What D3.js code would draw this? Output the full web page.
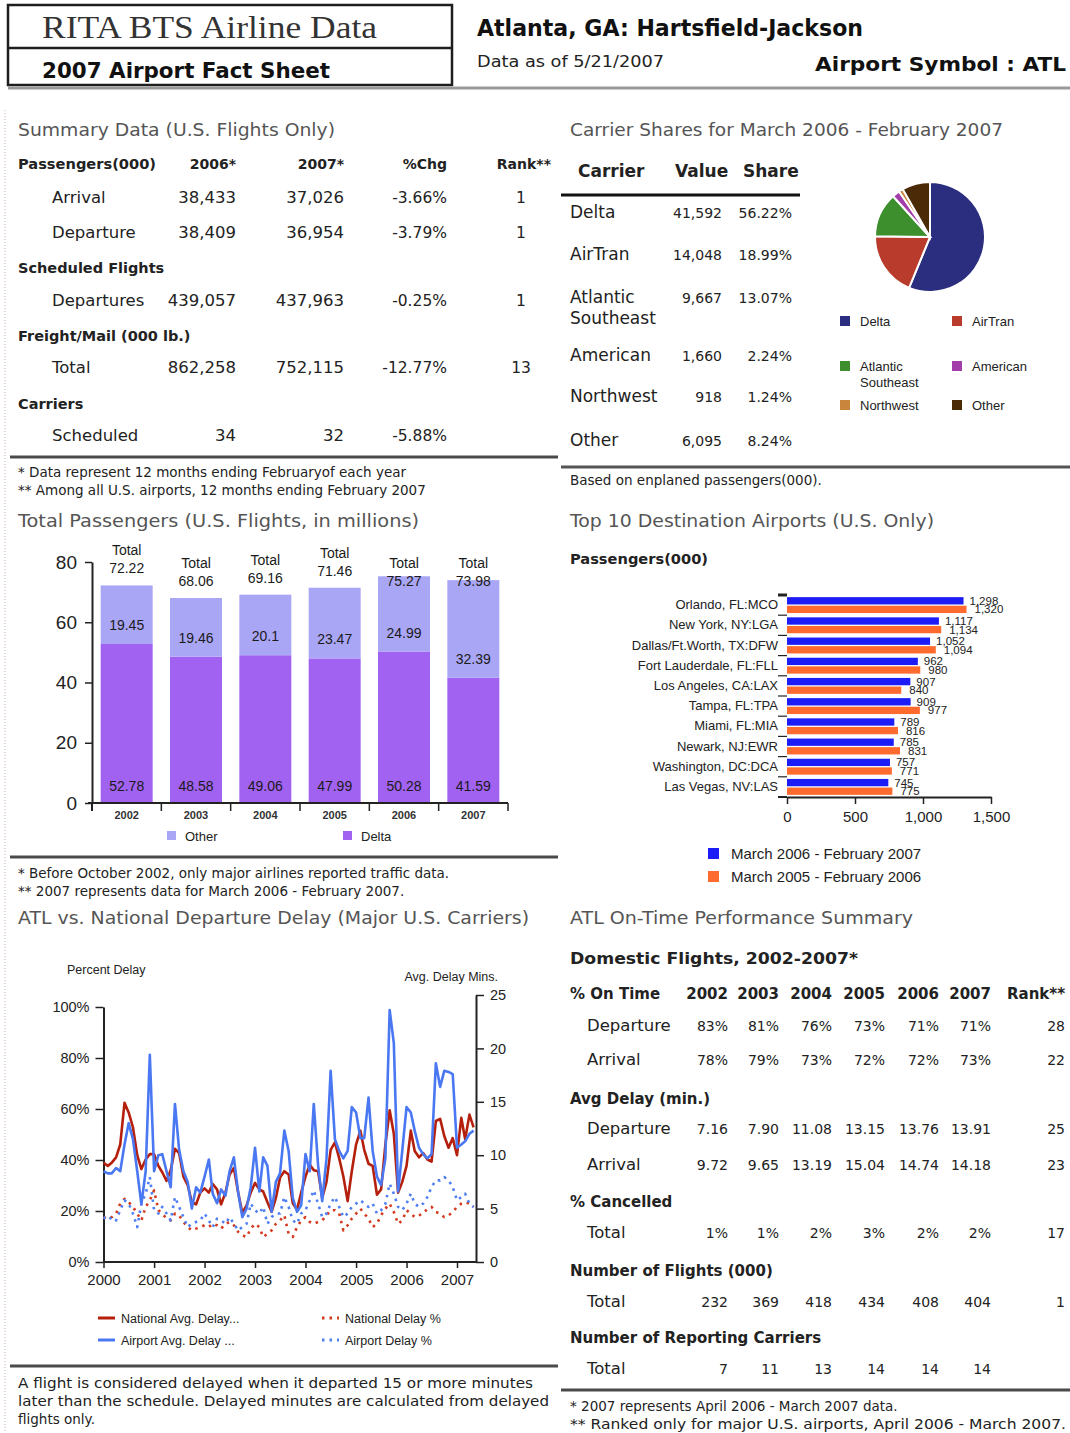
<!DOCTYPE html>
<html>
<head>
<meta charset="utf-8">
<script src="https://cdn.jsdelivr.net/npm/d3@7"></script>
<style>
  body { margin: 0; background: #fff; }
  svg { display: block; }
</style>
</head>
<body>
<script>
// ---- data ----
const sumLabels = ['Arrival', 'Departure', 'Departures', 'Total', 'Scheduled'];
const sum2006 = ['38,433', '38,409', '439,057', '862,258', '34'];
const sum2007 = ['37,026', '36,954', '437,963', '752,115', '32'];
const sumChg = ['-3.66%', '-3.79%', '-0.25%', '-12.77%', '-5.88%'];
const sumRank = ['1', '1', '1', '13', ''];
const sumGroups = ['Scheduled Flights', 'Freight/Mail (000 lb.)', 'Carriers'];

const carriers = ['Delta', 'AirTran', 'Atlantic Southeast', 'American', 'Northwest', 'Other'];
const carrierValues = [41592, 14048, 9667, 1660, 918, 6095];
const carrierShares = [56.22, 18.99, 13.07, 2.24, 1.24, 8.24];

const paxYears = ['2002', '2003', '2004', '2005', '2006', '2007'];
const paxDelta = [52.78, 48.58, 49.06, 47.99, 50.28, 41.59];
const paxOther = [19.45, 19.46, 20.1, 23.47, 24.99, 32.39];
const paxTotal = [72.22, 68.06, 69.16, 71.46, 75.27, 73.98];

const destAirports = ['Orlando, FL:MCO', 'New York, NY:LGA', 'Dallas/Ft.Worth, TX:DFW', 'Fort Lauderdale, FL:FLL',
  'Los Angeles, CA:LAX', 'Tampa, FL:TPA', 'Miami, FL:MIA', 'Newark, NJ:EWR', 'Washington, DC:DCA', 'Las Vegas, NV:LAS'];
const destCurrent = [1298, 1117, 1052, 962, 907, 909, 789, 785, 757, 745];
const destPrior = [1320, 1134, 1094, 980, 840, 977, 816, 831, 771, 775];
const destSeries = ['March 2006 - February 2007', 'March 2005 - February 2006'];

// monthly, Jan 2000 - May 2007
const natAvgDelay = [9.3, 9.0, 9.3, 9.8, 11.0, 14.9, 14.0, 12.6, 10.0, 8.7, 9.6, 10.1,
  10.1, 9.0, 8.4, 7.6, 8.6, 10.6, 10.2, 8.0, 7.2, 5.6, 5.4, 6.5,
  6.9, 6.5, 7.3, 6.8, 5.4, 6.5, 8.2, 8.8, 6.5, 4.6, 5.3, 6.5,
  7.4, 6.8, 6.6, 5.6, 4.7, 6.0, 7.9, 8.5, 8.2, 5.5, 4.9, 6.5,
  8.0, 9.1, 8.6, 8.5, 6.0, 7.5, 10.5, 11.2, 9.7, 8.0, 5.7, 8.5,
  11.0, 12.3, 10.5, 9.2, 9.0, 6.3, 6.8, 11.0, 14.2, 12.0, 6.5, 7.5,
  9.0, 12.3, 10.4, 9.8, 10.2, 9.6, 9.4, 13.2, 13.4, 11.8, 10.7, 11.6,
  10.0, 13.5, 11.5, 13.8, 12.6];
const apAvgDelay = [8.5, 8.3, 8.3, 8.8, 8.5, 11.0, 13.0, 11.5, 8.5, 5.4, 8.5, 19.4,
  8.5, 10.0, 10.1, 8.5, 7.0, 14.8, 10.5, 8.5, 7.5, 5.0, 7.0, 6.5,
  8.0, 9.6, 6.4, 5.5, 6.8, 6.2, 8.5, 9.8, 6.5, 4.2, 5.0, 7.0,
  10.7, 6.6, 9.8, 9.0, 4.7, 7.5, 8.3, 12.3, 10.4, 6.0, 4.7, 5.3,
  10.1, 8.5, 14.8, 9.1, 5.7, 9.7, 17.9, 11.5, 10.4, 9.7, 10.4, 14.5,
  14.0, 11.6, 11.6, 15.4, 10.4, 8.0, 7.2, 9.7, 23.6, 20.5, 6.6, 10.4,
  14.5, 14.0, 12.3, 10.7, 10.1, 9.7, 10.1, 18.6, 16.4, 17.9, 17.8, 17.6,
  10.7, 11.0, 11.3, 12.0, 12.3];
const natDelayPct = [17.6, 17.0, 17.6, 19.0, 22.9, 24.8, 23.5, 21.6, 19.0, 16.3, 21.6, 24.2,
  28.1, 20.3, 19.0, 17.0, 16.3, 19.0, 18.3, 15.7, 13.7, 12.4, 13.1, 13.7,
  14.4, 13.7, 15.0, 14.4, 13.1, 15.0, 15.7, 14.4, 11.8, 10.5, 9.8, 13.1,
  15.0, 13.7, 9.8, 11.1, 12.4, 15.0, 16.3, 18.3, 11.1, 9.8, 13.7, 16.3,
  17.6, 15.7, 15.0, 15.7, 16.3, 18.3, 20.3, 20.3, 19.0, 12.4, 14.4, 17.0,
  19.0, 20.9, 19.0, 17.0, 13.7, 15.0, 18.3, 20.9, 22.9, 19.6, 15.0, 16.3,
  20.3, 19.0, 17.6, 18.3, 19.0, 20.9, 21.6, 19.6, 19.0, 17.6, 18.3, 19.6,
  21.6, 22.9, 23.5, 22.9, 21.6];
const apDelayPct = [17.6, 16.3, 17.6, 16.3, 20.3, 24.2, 22.9, 19.0, 13.7, 22.9, 26.8, 33.3,
  20.3, 19.0, 21.6, 19.0, 16.3, 25.5, 21.6, 17.6, 13.7, 15.0, 15.7, 16.3,
  19.0, 16.3, 13.7, 17.0, 16.3, 15.0, 17.6, 15.0, 12.4, 13.7, 15.0, 22.9,
  20.3, 19.0, 21.6, 15.0, 17.6, 19.0, 19.0, 25.5, 21.6, 16.3, 15.0, 19.0,
  20.3, 24.2, 28.1, 22.9, 17.6, 19.0, 22.9, 25.5, 21.6, 17.6, 19.0, 21.6,
  22.9, 24.2, 22.9, 21.6, 22.9, 19.0, 20.3, 22.9, 30.7, 26.8, 21.6, 20.3,
  22.9, 26.8, 22.9, 21.6, 22.9, 25.5, 29.4, 32.0, 32.0, 33.3, 32.0, 29.4,
  24.2, 25.5, 26.8, 22.9, 21.6];
const delayYearTicks = [2000, 2001, 2002, 2003, 2004, 2005, 2006, 2007];

const otpYears = ['2002', '2003', '2004', '2005', '2006', '2007'];
const otpDepOnTime = [83, 81, 76, 73, 71, 71];
const otpArrOnTime = [78, 79, 73, 72, 72, 73];
const otpDepDelay = [7.16, 7.90, 11.08, 13.15, 13.76, 13.91];
const otpArrDelay = [9.72, 9.65, 13.19, 15.04, 14.74, 14.18];
const otpCancelled = [1, 1, 2, 3, 2, 2];
const otpFlights = [232, 369, 418, 434, 408, 404];
const otpCarriers = [7, 11, 13, 14, 14, 14];
const otpRanks = ['28', '22', '25', '23', '17', '1', ''];

// ---- setup ----
const SANS = 'DejaVu Sans, Verdana, sans-serif';
const ARIAL = 'Liberation Sans, Arial, sans-serif';
const SERIF = 'Liberation Serif, Times New Roman, serif';
const TITLE = '#555';

const svg = d3.select('body').append('svg').attr('width', 1070).attr('height', 1433);

function txt(g, x, y, s, o = {}) {
  const t = g.append('text').attr('x', x).attr('y', y).text(s)
    .attr('font-family', o.font || SANS)
    .attr('font-size', o.size || 16)
    .attr('fill', o.fill || '#222');
  if (o.bold) t.attr('font-weight', 'bold');
  if (o.anchor) t.attr('text-anchor', o.anchor);
  if (o.w) t.attr('textLength', o.w).attr('lengthAdjust', 'spacingAndGlyphs');
  return t;
}

function rule(x1, x2, y, color = '#4a4a4a', w = 3) {
  svg.append('line').attr('x1', x1).attr('x2', x2).attr('y1', y).attr('y2', y)
    .attr('stroke', color).attr('stroke-width', w);
}

function styleAxis(g, size) {
  g.selectAll('text').attr('font-family', ARIAL).attr('font-size', size).attr('fill', '#222');
  g.selectAll('line').attr('stroke', '#222').attr('stroke-width', 1.5);
  g.select('.domain').attr('stroke', '#222').attr('stroke-width', 2);
}

// faint dotted margin on the left
svg.append('line').attr('x1', 5).attr('x2', 5).attr('y1', 110).attr('y2', 1433)
  .attr('stroke', '#dcc8dc').attr('stroke-width', 1.5).attr('stroke-dasharray', '1,2');

// ---- header ----
const hdr = svg.append('g');
hdr.append('rect').attr('x', 8).attr('y', 5).attr('width', 444).attr('height', 80)
  .attr('fill', 'none').attr('stroke', '#1e1e1e').attr('stroke-width', 2.5);
hdr.append('line').attr('x1', 8).attr('x2', 452).attr('y1', 48).attr('y2', 48)
  .attr('stroke', '#1e1e1e').attr('stroke-width', 2.5);
txt(hdr, 42, 38, 'RITA BTS Airline Data', { font: SERIF, size: 31, fill: '#333', w: 335 });
txt(hdr, 42, 78, '2007 Airport Fact Sheet', { bold: true, size: 21, fill: '#111', w: 288 });
txt(hdr, 477, 36, 'Atlanta, GA: Hartsfield-Jackson', { bold: true, size: 23, fill: '#111', w: 386 });
txt(hdr, 477, 67, 'Data as of 5/21/2007', { size: 16, w: 187 });
txt(hdr, 1066, 71, 'Airport Symbol : ATL', { bold: true, size: 20, fill: '#111', anchor: 'end', w: 251 });
rule(8, 1070, 88, '#999', 3);

// ---- summary table ----
function drawSummary() {
  const g = svg.append('g');
  txt(g, 18, 136, 'Summary Data (U.S. Flights Only)', { size: 18, fill: TITLE, w: 317 });
  const cols = [236, 344, 447];
  txt(g, 18, 169, 'Passengers(000)', { bold: true, size: 14, w: 138 });
  txt(g, cols[0], 169, '2006*', { bold: true, size: 14, anchor: 'end' });
  txt(g, cols[1], 169, '2007*', { bold: true, size: 14, anchor: 'end' });
  txt(g, cols[2], 169, '%Chg', { bold: true, size: 14, anchor: 'end' });
  txt(g, 551, 169, 'Rank**', { bold: true, size: 14, anchor: 'end' });

  const rowY = [203, 238, 306, 373, 441];
  const groupY = [273, 341, 409];
  sumGroups.forEach((s, i) => txt(g, 18, groupY[i], s, { bold: true, size: 14.5 }));
  sumLabels.forEach((s, i) => {
    const y = rowY[i];
    txt(g, 52, y, s, { size: 16.5 });
    txt(g, cols[0], y, sum2006[i], { size: 16.5, anchor: 'end' });
    txt(g, cols[1], y, sum2007[i], { size: 16.5, anchor: 'end' });
    txt(g, cols[2], y, sumChg[i], { size: 15.5, anchor: 'end' });
    txt(g, 521, y, sumRank[i], { size: 15.5, anchor: 'middle' });
  });
  rule(10, 558, 457);
  txt(g, 18, 477, '* Data represent 12 months ending Februaryof each year', { size: 13.5 });
  txt(g, 18, 495, '** Among all U.S. airports, 12 months ending February 2007', { size: 13.5 });
}

// ---- carrier shares ----
function drawCarriers() {
  const g = svg.append('g');
  const colors = ['#2b2e7e', '#b93b2c', '#3d8f2e', '#a23da9', '#c9853c', '#4b2a08'];
  txt(g, 570, 136, 'Carrier Shares for March 2006 - February 2007', { size: 18, fill: TITLE, w: 433 });
  txt(g, 578, 177, 'Carrier', { bold: true, size: 17 });
  txt(g, 675, 177, 'Value', { bold: true, size: 17 });
  txt(g, 743, 177, 'Share', { bold: true, size: 17 });
  rule(561, 800, 195, '#111', 3);

  const rowY = [218, 260, 303, 361, 402, 446];
  carriers.forEach((c, i) => {
    const y = rowY[i];
    const parts = c === 'Atlantic Southeast' ? ['Atlantic', 'Southeast'] : [c];
    parts.forEach((p, j) => txt(g, 570, y + j * 21, p, { size: 17 }));
    txt(g, 722, y, d3.format(',')(carrierValues[i]), { size: 14, anchor: 'end' });
    txt(g, 792, y, carrierShares[i].toFixed(2) + '%', { size: 14, anchor: 'end' });
  });

  const pie = d3.pie().sort(null).value(d => d)(carrierShares);
  const arc = d3.arc().innerRadius(0).outerRadius(55);
  g.append('g').attr('transform', 'translate(930,237)')
    .selectAll('path').data(pie).join('path')
    .attr('d', arc).attr('fill', (d, i) => colors[i])
    .attr('stroke', '#fff').attr('stroke-width', 2);

  const legPos = [[840, 321], [952, 321], [840, 366], [952, 366], [840, 405], [952, 405]];
  carriers.forEach((c, i) => {
    const [x, y] = legPos[i];
    g.append('rect').attr('x', x).attr('y', y - 5).attr('width', 10).attr('height', 10).attr('fill', colors[i]);
    const parts = c === 'Atlantic Southeast' ? ['Atlantic', 'Southeast'] : [c];
    parts.forEach((p, j) => txt(g, x + 20, y + 5 + j * 16, p, { font: ARIAL, size: 13 }));
  });

  rule(561, 1070, 467, '#555', 3);
  txt(g, 570, 485, 'Based on enplaned passengers(000).', { size: 13.5 });
}

// ---- total passengers stacked bars ----
function drawPassengers() {
  const g = svg.append('g');
  txt(g, 18, 527, 'Total Passengers (U.S. Flights, in millions)', { size: 18, fill: TITLE, w: 401 });

  const table = paxYears.map((y, i) => ({ year: y, delta: paxDelta[i], other: paxOther[i] }));
  const stacked = d3.stack().keys(['delta', 'other'])(table);
  const colors = { delta: '#a262f1', other: '#aaa6f6' };

  const x = d3.scaleBand().domain(paxYears).range([92, 508]).paddingInner(0.25).paddingOuter(0.125);
  const y = d3.scaleLinear().domain([0, 80]).range([803, 562]);

  g.append('g').selectAll('g').data(stacked).join('g')
    .attr('fill', d => colors[d.key])
    .selectAll('rect').data(d => d).join('rect')
    .attr('x', d => x(d.data.year))
    .attr('width', x.bandwidth())
    .attr('y', d => y(d[1]))
    .attr('height', d => y(d[0]) - y(d[1]));

  const yAxis = g.append('g').attr('transform', 'translate(92,0)')
    .call(d3.axisLeft(y).tickValues([0, 20, 40, 60, 80]).tickSize(7).tickSizeOuter(0).tickPadding(8));
  styleAxis(yAxis, 19);
  g.append('line').attr('x1', 92).attr('x2', 92).attr('y1', 803).attr('y2', 811).attr('stroke', '#222').attr('stroke-width', 2);

  g.append('line').attr('x1', 88).attr('x2', 508).attr('y1', 803).attr('y2', 803).attr('stroke', '#222').attr('stroke-width', 2);
  g.selectAll('.xt').data(d3.range(paxYears.length + 1)).join('line')
    .attr('x1', i => 92 + i * x.step()).attr('x2', i => 92 + i * x.step())
    .attr('y1', 803).attr('y2', 811).attr('stroke', '#222').attr('stroke-width', 1.5);
  paxYears.forEach(yr => txt(g, x(yr) + x.bandwidth() / 2, 819, yr, { font: ARIAL, size: 11, anchor: 'middle', bold: true, fill: '#333' }));

  const lbl = { font: ARIAL, size: 14, anchor: 'middle', fill: '#1a1a1a' };
  table.forEach((d, i) => {
    const cx = x(d.year) + x.bandwidth() / 2;
    txt(g, cx, y(0) - 12, d3.format('.2f')(d.delta).replace(/0$/, ''), lbl);
    txt(g, cx, y(d.delta) - 14, String(paxOther[i]), lbl);
    const top = y(d.delta + d.other);
    const ty = top - 30 < 553 ? 568 : top - 30;
    txt(g, cx, ty, 'Total', lbl);
    txt(g, cx, ty + 18, paxTotal[i].toFixed(2), lbl);
  });

  const leg = [['Other', 'other', 167], ['Delta', 'delta', 343]];
  leg.forEach(([name, key, lx]) => {
    g.append('rect').attr('x', lx).attr('y', 831).attr('width', 9).attr('height', 9).attr('fill', colors[key]);
    txt(g, lx + 18, 841, name, { font: ARIAL, size: 13 });
  });

  rule(10, 558, 857);
  txt(g, 18, 878, '* Before October 2002, only major airlines reported traffic data.', { size: 13.5 });
  txt(g, 18, 896, '** 2007 represents data for March 2006 - February 2007.', { size: 13.5 });
}

// ---- top 10 destinations ----
function drawDestinations() {
  const g = svg.append('g');
  txt(g, 570, 527, 'Top 10 Destination Airports (U.S. Only)', { size: 18, fill: TITLE, w: 364 });
  txt(g, 570, 564, 'Passengers(000)', { bold: true, size: 14, w: 138 });

  const colors = ['#1c1cf6', '#ff6b2e'];
  const x = d3.scaleLinear().domain([0, 1500]).range([787, 991]);
  const y = d3.scaleBand().domain(destAirports).range([595, 797]);
  const inner = d3.scaleBand().domain([0, 1]).range([0, y.bandwidth()]).paddingInner(0.15).paddingOuter(0.25);

  const rows = destAirports.map((a, i) => ({ a, vals: [destCurrent[i], destPrior[i]] }));
  const grp = g.append('g').selectAll('g').data(rows).join('g')
    .attr('transform', d => `translate(0,${y(d.a)})`);
  grp.selectAll('rect').data(d => d.vals).join('rect')
    .attr('x', x(0)).attr('y', (v, k) => inner(k))
    .attr('width', v => x(v) - x(0)).attr('height', inner.bandwidth())
    .attr('fill', (v, k) => colors[k]);
  // value labels crowd each other in the original too
  grp.selectAll('text').data(d => d.vals).join('text')
    .attr('x', (v, k) => x(v) + 6 + k * 2).attr('y', (v, k) => inner(k) + inner.bandwidth() / 2 + 4)
    .attr('font-family', ARIAL).attr('font-size', 11.5).attr('fill', '#222')
    .text(v => d3.format(',')(v));

  const yAxis = g.append('g').attr('transform', 'translate(787,0)')
    .call(d3.axisLeft(y).tickSize(0).tickPadding(9));
  yAxis.select('.domain').remove();
  yAxis.selectAll('text').attr('font-family', ARIAL).attr('font-size', 13).attr('fill', '#222');
  g.selectAll('.bt').data(destAirports).join('line')
    .attr('x1', 778).attr('x2', 787).attr('y1', d => y(d)).attr('y2', d => y(d))
    .attr('stroke', '#222').attr('stroke-width', (d, i) => i === 0 ? 3 : 1.2);

  const xAxis = g.append('g').attr('transform', 'translate(0,797)')
    .call(d3.axisBottom(x).tickValues([0, 500, 1000, 1500]).tickFormat(d3.format(',')).tickSize(7).tickSizeOuter(0).tickPadding(7));
  styleAxis(xAxis, 15);
  g.append('line').attr('x1', 778).attr('x2', 787).attr('y1', 797).attr('y2', 797).attr('stroke', '#222').attr('stroke-width', 2);

  destSeries.forEach((s, i) => {
    g.append('rect').attr('x', 708).attr('y', 848 + i * 23).attr('width', 11).attr('height', 11).attr('fill', colors[i]);
    txt(g, 731, 859 + i * 23, s, { font: ARIAL, size: 15 });
  });
}

// ---- departure delay lines ----
function drawDelay() {
  const g = svg.append('g');
  txt(g, 18, 924, 'ATL vs. National Departure Delay (Major U.S. Carriers)', { size: 18, fill: TITLE, w: 511 });
  txt(g, 67, 974, 'Percent Delay', { font: ARIAL, size: 12.5 });
  txt(g, 498, 981, 'Avg. Delay Mins.', { font: ARIAL, size: 12.5, anchor: 'end' });

  const x = d3.scaleTime().domain([new Date(2000, 0, 1), new Date(2007, 0, 1)]).range([103.5, 457]);
  const yPct = d3.scaleLinear().domain([0, 100]).range([1262, 1007]);
  const yMin = d3.scaleLinear().domain([0, 25]).range([1262, 995]);
  const date = i => new Date(2000, i, 1);

  const left = g.append('g').attr('transform', 'translate(103.5,0)')
    .call(d3.axisLeft(yPct).tickValues([0, 20, 40, 60, 80, 100]).tickFormat(d => d + '%').tickSize(8).tickSizeOuter(0).tickPadding(6));
  styleAxis(left, 14.5);
  const right = g.append('g').attr('transform', 'translate(476,0)')
    .call(d3.axisRight(yMin).tickValues([0, 5, 10, 15, 20, 25]).tickSize(8).tickSizeOuter(0).tickPadding(6));
  styleAxis(right, 14.5);
  const bottom = g.append('g').attr('transform', 'translate(0,1262)')
    .call(d3.axisBottom(x).tickValues(delayYearTicks.map(y => new Date(y, 0, 1))).tickFormat(d3.timeFormat('%Y')).tickSize(6).tickSizeOuter(0).tickPadding(6));
  bottom.select('.domain').attr('d', 'M103.5,0H476');
  styleAxis(bottom, 15);

  const series = [
    { v: natDelayPct, y: yPct, color: '#d33a1e', dash: '2.5,5' },
    { v: apDelayPct, y: yPct, color: '#4f7ff2', dash: '2.5,5' },
    { v: natAvgDelay, y: yMin, color: '#b5200d', dash: null },
    { v: apAvgDelay, y: yMin, color: '#4a78f2', dash: null }
  ];
  series.forEach(s => {
    const line = d3.line().x((d, i) => x(date(i))).y(d => s.y(d));
    g.append('path').datum(s.v).attr('d', line)
      .attr('fill', 'none').attr('stroke', s.color).attr('stroke-width', 2.6)
      .attr('stroke-dasharray', s.dash).attr('stroke-linejoin', 'round');
  });

  const leg = [
    ['National Avg. Delay...', '#b5200d', null, 98, 1318],
    ['National Delay %', '#d33a1e', '2.5,5', 322, 1318],
    ['Airport Avg. Delay ...', '#4a78f2', null, 98, 1340],
    ['Airport Delay %', '#4f7ff2', '2.5,5', 322, 1340]
  ];
  leg.forEach(([name, color, dash, lx, ly]) => {
    g.append('line').attr('x1', lx).attr('x2', lx + 17).attr('y1', ly).attr('y2', ly)
      .attr('stroke', color).attr('stroke-width', 3).attr('stroke-dasharray', dash);
    txt(g, lx + 23, ly + 5, name, { font: ARIAL, size: 12.5 });
  });

  rule(10, 558, 1366);
  txt(g, 18, 1388, 'A flight is considered delayed when it departed 15 or more minutes', { size: 13.5, w: 515 });
  txt(g, 18, 1406, 'later than the schedule. Delayed minutes are calculated from delayed', { size: 13.5, w: 531 });
  txt(g, 18, 1424, 'flights only.', { size: 13.5 });
}

// ---- on-time performance table ----
function drawOnTime() {
  const g = svg.append('g');
  txt(g, 570, 924, 'ATL On-Time Performance Summary', { size: 18, fill: TITLE, w: 343 });
  txt(g, 570, 964, 'Domestic Flights, 2002-2007*', { bold: true, size: 16, w: 288 });

  const cols = [728, 779, 832, 885, 939, 991];
  const rankX = 1065;
  txt(g, 570, 999, '% On Time', { bold: true, size: 15 });
  otpYears.forEach((y, i) => txt(g, cols[i], 999, y, { bold: true, size: 15, anchor: 'end' }));
  txt(g, rankX, 999, 'Rank**', { bold: true, size: 15, anchor: 'end' });

  const pct = v => v + '%';
  const fix = v => v.toFixed(2);
  const rows = [
    ['Departure', otpDepOnTime, pct, 1031],
    ['Arrival', otpArrOnTime, pct, 1065],
    ['Departure', otpDepDelay, fix, 1134],
    ['Arrival', otpArrDelay, fix, 1170],
    ['Total', otpCancelled, pct, 1238],
    ['Total', otpFlights, String, 1307],
    ['Total', otpCarriers, String, 1374]
  ];
  const heads = [['Avg Delay (min.)', 1104], ['% Cancelled', 1207], ['Number of Flights (000)', 1276], ['Number of Reporting Carriers', 1343]];
  heads.forEach(([h, y]) => txt(g, 570, y, h, { bold: true, size: 15 }));
  rows.forEach(([label, vals, f, y], r) => {
    txt(g, 587, y, label, { size: 16.5 });
    vals.forEach((v, i) => txt(g, cols[i], y, f(v), { size: 14, anchor: 'end' }));
    txt(g, rankX, y, otpRanks[r], { size: 14, anchor: 'end' });
  });

  rule(561, 1070, 1390);
  txt(g, 570, 1411, '* 2007 represents April 2006 - March 2007 data.', { size: 13.5 });
  txt(g, 570, 1429, '** Ranked only for major U.S. airports, April 2006 - March 2007.', { size: 13.5, w: 496 });
}

drawSummary();
drawCarriers();
drawPassengers();
drawDestinations();
drawDelay();
drawOnTime();
</script>
</body>
</html>
